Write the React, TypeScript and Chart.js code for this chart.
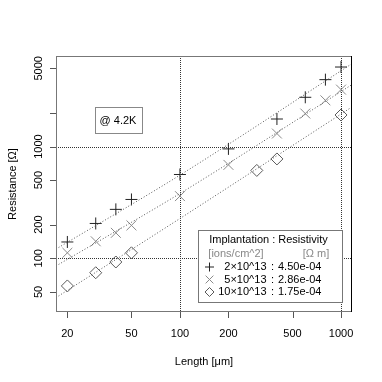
import React, { useEffect, useRef } from "react";
import { Chart, registerables } from "chart.js";

Chart.register(...registerables);

// ---- data ----
const lengths1 = [20, 30, 40, 50, 100, 200, 400, 600, 800, 1000];
const res1 = [140, 205, 274, 336, 562, 952, 1762, 2756, 3963, 5140];
const lengths2 = [20, 30, 40, 50, 100, 200, 400, 600, 800, 1000];
const res2 = [112, 142, 169, 197, 360, 685, 1306, 1972, 2588, 3228];
const lengths3 = [20, 30, 40, 50, 300, 400, 1000];
const res3 = [56.6, 74.3, 92.7, 112, 611, 774, 1914];

const fitLengths = [17, 100, 1170];
const fit1 = [121, 555, 5510];
const fit2 = [85.4, 380, 3580];
const fit3 = [44.5, 227, 2260];

const xTicks = [20, 50, 100, 200, 500, 1000];
const xTickLabels = ["20", "50", "100", "200", "500", "1000"];
const yTicks = [50, 100, 200, 500, 1000, 2000, 5000];
const yTickLabels = ["50", "100", "200", "500", "1000", "", "5000"];
const refX = [100, 1000];
const refY = [100, 1000];

const legendTitle = "Implantation : Resistivity";
const legendUnitsLeft = "[ions/cm^2]";
const legendUnitsRight = "[Ω m]";
const legendDoses = ["2×10^13", "5×10^13", "10×10^13"];
const legendRho = ["4.50e-04", "2.86e-04", "1.75e-04"];
const annotationText = "@ 4.2K";
const xTitle = "Length [μm]";
const yTitle = "Resistance [Ω]";

const X_MIN = 17;
const X_MAX = 1170;
const Y_MIN = 33.1;
const Y_MAX = 6450;

const FONT = '"Liberation Sans", Arial, Helvetica, sans-serif';
const markerColors = ["#222222", "#8a8a8a", "#5a5a5a"];
const markerStyles = ["cross", "crossRot", "rectRot"];

function pts(xs: number[], ys: number[]) {
  return xs.map((x, i) => ({ x, y: ys[i] }));
}

function drawMarker(ctx: CanvasRenderingContext2D, style: string, x: number, y: number, r: number, color: string) {
  ctx.save();
  ctx.strokeStyle = color;
  ctx.lineWidth = 1;
  ctx.setLineDash([]);
  ctx.beginPath();
  if (style === "cross") {
    ctx.moveTo(x - r, y);
    ctx.lineTo(x + r, y);
    ctx.moveTo(x, y - r);
    ctx.lineTo(x, y + r);
  } else if (style === "crossRot") {
    const d = r * Math.SQRT1_2;
    ctx.moveTo(x - d, y - d);
    ctx.lineTo(x + d, y + d);
    ctx.moveTo(x - d, y + d);
    ctx.lineTo(x + d, y - d);
  } else {
    ctx.moveTo(x - r, y);
    ctx.lineTo(x, y - r);
    ctx.lineTo(x + r, y);
    ctx.lineTo(x, y + r);
    ctx.closePath();
  }
  ctx.stroke();
  ctx.restore();
}

export default function App() {
  const ref = useRef<HTMLCanvasElement>(null);

  useEffect(() => {
    document.body.style.margin = "0";
    const canvas = ref.current!;

    const overlay = {
      id: "overlay",
      beforeDatasetsDraw(chart: any) {
        const { ctx, chartArea: a, scales } = chart;
        const x = scales.x;
        const y = scales.y;
        ctx.save();
        ctx.strokeStyle = "#333333";
        ctx.lineWidth = 1;
        ctx.setLineDash([1, 1]);
        refX.forEach((v) => {
          const px = Math.round(x.getPixelForValue(v)) + 0.5;
          ctx.beginPath();
          ctx.moveTo(px, a.top);
          ctx.lineTo(px, a.bottom);
          ctx.stroke();
        });
        refY.forEach((v) => {
          const py = Math.round(y.getPixelForValue(v)) + 0.5;
          ctx.beginPath();
          ctx.moveTo(a.left, py);
          ctx.lineTo(a.right, py);
          ctx.stroke();
        });
        ctx.restore();
      },
      afterDraw(chart: any) {
        const { ctx, chartArea: a, scales } = chart;
        const x = scales.x;
        const y = scales.y;
        ctx.save();
        ctx.setLineDash([]);
        // plot box
        ctx.strokeStyle = "#777777";
        ctx.lineWidth = 1;
        ctx.strokeRect(a.left + 0.5, a.top + 0.5, a.right - a.left - 1, a.bottom - a.top - 1);
        ctx.strokeStyle = "#000000";
        ctx.beginPath();
        ctx.moveTo(a.right - 0.5, a.top);
        ctx.lineTo(a.right - 0.5, a.bottom);
        ctx.stroke();

        // tick marks
        ctx.strokeStyle = "#555555";
        xTicks.forEach((v) => {
          const px = Math.round(x.getPixelForValue(v)) + 0.5;
          ctx.beginPath();
          ctx.moveTo(px, a.bottom);
          ctx.lineTo(px, a.bottom + 6);
          ctx.stroke();
        });
        yTicks.forEach((v) => {
          const py = Math.round(y.getPixelForValue(v)) + 0.5;
          ctx.beginPath();
          ctx.moveTo(a.left - 6, py);
          ctx.lineTo(a.left, py);
          ctx.stroke();
        });

        // tick labels
        ctx.fillStyle = "#000000";
        ctx.font = `11px ${FONT}`;
        ctx.textAlign = "center";
        ctx.textBaseline = "middle";
        xTicks.forEach((v, i) => {
          ctx.fillText(xTickLabels[i], x.getPixelForValue(v), a.bottom + 22);
        });
        yTicks.forEach((v, i) => {
          if (!yTickLabels[i]) return;
          ctx.save();
          ctx.translate(a.left - 17, y.getPixelForValue(v));
          ctx.rotate(-Math.PI / 2);
          ctx.fillText(yTickLabels[i], 0, 0);
          ctx.restore();
        });

        // axis titles
        ctx.fillText(xTitle, (a.left + a.right) / 2, a.bottom + 50);
        ctx.save();
        ctx.translate(13, (a.top + a.bottom) / 2);
        ctx.rotate(-Math.PI / 2);
        ctx.fillText(yTitle, 0, 0);
        ctx.restore();

        // annotation box
        ctx.fillStyle = "#ffffff";
        ctx.fillRect(95.5, 107.5, 47, 26);
        ctx.strokeStyle = "#888888";
        ctx.strokeRect(95.5, 107.5, 47, 26);
        ctx.fillStyle = "#000000";
        ctx.font = `11px ${FONT}`;
        ctx.fillText(annotationText, 118, 121);

        // legend
        ctx.fillStyle = "#ffffff";
        ctx.fillRect(198.5, 230.5, 144, 72);
        ctx.strokeStyle = "#777777";
        ctx.strokeRect(198.5, 230.5, 144, 72);
        ctx.fillStyle = "#000000";
        ctx.textAlign = "center";
        ctx.fillText(legendTitle, 268.5, 240);
        ctx.fillStyle = "#888888";
        ctx.fillText(legendUnitsLeft, 236, 253.5);
        ctx.fillText(legendUnitsRight, 316, 253.5);
        const rowY = [267, 279.5, 292];
        legendDoses.forEach((d, i) => {
          drawMarker(ctx, markerStyles[i], 209.5, rowY[i], i === 1 ? 5.5 : 4.5, markerColors[i]);
          ctx.fillStyle = "#000000";
          ctx.textAlign = "right";
          ctx.fillText(d, 266.5, rowY[i]);
          ctx.textAlign = "center";
          ctx.fillText(":", 272.5, rowY[i]);
          ctx.textAlign = "left";
          ctx.fillText(legendRho[i], 278, rowY[i]);
        });
        ctx.restore();
      },
    };

    const fitDs = (data: number[]) => ({
      data: pts(fitLengths, data),
      borderColor: "#555555",
      borderWidth: 1,
      borderDash: [1, 2],
      pointRadius: 0,
      showLine: true,
      cubicInterpolationMode: "monotone" as const,
      fill: false,
    });
    const markDs = (xs: number[], ys: number[], i: number, r: number) => ({
      data: pts(xs, ys),
      borderColor: markerColors[i],
      backgroundColor: "rgba(0,0,0,0)",
      pointStyle: markerStyles[i],
      pointRadius: r,
      pointBorderWidth: 1,
      showLine: false,
    });

    const chart = new Chart(canvas, {
      type: "line",
      data: {
        datasets: [
          fitDs(fit1),
          fitDs(fit2),
          fitDs(fit3),
          markDs(lengths1, res1, 0, 6),
          markDs(lengths2, res2, 1, 7),
          markDs(lengths3, res3, 2, 6),
        ] as any,
      },
      options: {
        animation: false,
        responsive: false,
        devicePixelRatio: 1,
        layout: { padding: { left: 56, top: 56, right: 30, bottom: 70 } },
        plugins: { legend: { display: false }, tooltip: { enabled: false } },
        events: [],
        scales: {
          x: { type: "logarithmic", min: X_MIN, max: X_MAX, display: false },
          y: { type: "logarithmic", min: Y_MIN, max: Y_MAX, display: false },
        },
      },
      plugins: [overlay],
    });
    return () => chart.destroy();
  }, []);

  return <canvas ref={ref} width={382} height={382} style={{ display: "block" }} />;
}
